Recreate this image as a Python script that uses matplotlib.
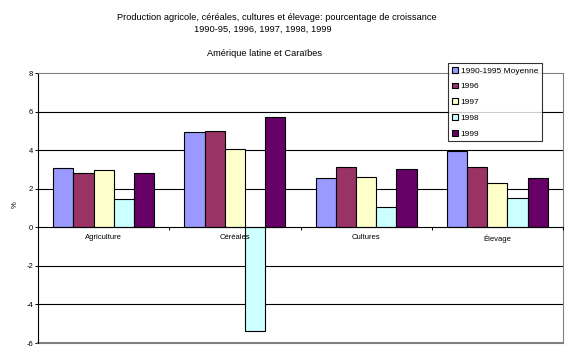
import numpy as np
import matplotlib.pyplot as plt

# données
categories = ["Agriculture", "Céréales", "Cultures", "Élevage"]
series = ["1990-1995 Moyenne", "1996", "1997", "1998", "1999"]
values = {
    "1990-1995 Moyenne": [3.10, 4.92, 2.58, 3.95],
    "1996": [2.84, 4.97, 3.15, 3.15],
    "1997": [2.96, 4.04, 2.63, 2.32],
    "1998": [1.49, -5.40, 1.07, 1.54],
    "1999": [2.79, 5.70, 3.00, 2.58],
}
colors = ["#9999FF", "#993366", "#FFFFCC", "#CCFFFF", "#660066"]
yticks = [-6, -4, -2, 0, 2, 4, 6, 8]

plt.rcParams['font.family'] = ['Liberation Sans', 'DejaVu Sans']

fig = plt.figure(figsize=(5.84, 3.58), dpi=100)
ax = fig.add_axes([38/584, 15/358, 525/584, 270/358])

x = np.arange(len(categories))
w = 1 / 6.5
for j, s in enumerate(series):
    ax.bar(x + (j - 2) * w, values[s], width=w, color=colors[j],
           edgecolor="black", linewidth=0.8, label=s, zorder=3)

ax.set_xlim(-0.5, len(categories) - 0.5)
ax.set_ylim(-6, 8)
ax.set_yticks(yticks)
ax.set_yticklabels([str(t) for t in yticks], fontsize=5.5)
ax.tick_params(axis='y', length=2.5, width=0.7, pad=1)
for t in yticks[1:-1]:
    if t != 0:
        ax.axhline(t, color="black", linewidth=0.8, zorder=1)

# axe des x à zéro
ax.spines['bottom'].set_position(('data', 0))
ax.spines['bottom'].set_color("black")
ax.spines['bottom'].set_linewidth(0.8)
ax.spines['bottom'].set_zorder(4)
ax.set_xticks(x)
ax.set_xticklabels(categories, fontsize=5.5)
ax.set_xticks(np.arange(-0.5, len(categories)), minor=True)
ax.tick_params(axis='x', which='major', length=0, pad=5)
ax.tick_params(axis='x', which='minor', length=2.5, width=0.7, direction='out')
ax.xaxis.set_zorder(5)
ax.spines['left'].set_linewidth(0.8)
ax.spines['top'].set_color("#808080")
ax.spines['right'].set_color("#808080")
ax.axhline(-6, color="#808080", linewidth=1.5, clip_on=False)

leg = ax.legend(loc="upper left", bbox_to_anchor=(0.781, 1.037), fontsize=6,
                frameon=True, fancybox=False, handlelength=0.7, handleheight=0.7,
                handletextpad=0.35, labelspacing=0.95, borderpad=0.45,
                borderaxespad=0)
leg.get_frame().set_edgecolor("black")
leg.get_frame().set_linewidth(0.8)
leg.set_zorder(6)

fig.text(277/584, 1 - 17/358, "Production agricole, céréales, cultures et élevage: pourcentage de croissance",
         ha="center", va="center", fontsize=6.7)
fig.text(263/584, 1 - 29/358, "1990-95, 1996, 1997, 1998, 1999",
         ha="center", va="center", fontsize=6.7)
fig.text(265/584, 1 - 53/358, "Amérique latine et Caraïbes",
         ha="center", va="center", fontsize=6.7)
fig.text(15/584, 1 - 205/358, "%", rotation=90, ha="center", va="center", fontsize=5.5)

fig.savefig("out.png", dpi=100)
